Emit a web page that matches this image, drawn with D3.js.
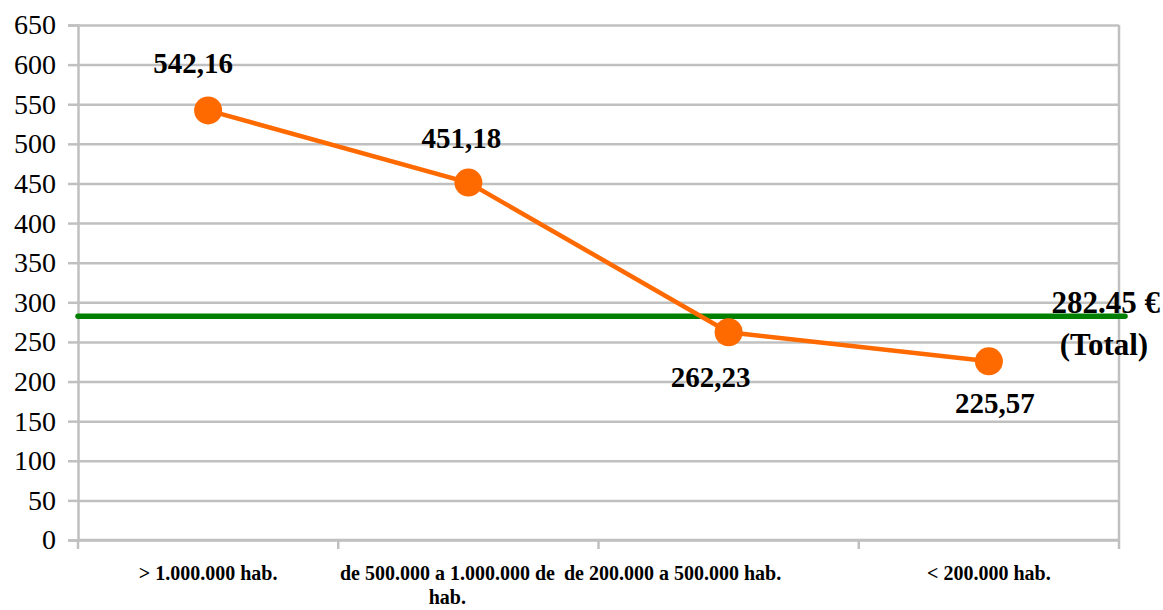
<!DOCTYPE html>
<html><head><meta charset="utf-8">
<script src="https://cdn.jsdelivr.net/npm/d3@7"></script>
<style>body{margin:0;background:#fff}svg{display:block}text{font-family:"Liberation Serif","Times New Roman",serif}</style>
</head><body><svg id="c" width="1163" height="610"></svg>
<script>
const categories = ["> 1.000.000 hab.", "de 500.000 a 1.000.000 de hab.", "de 200.000 a 500.000 hab.", "< 200.000 hab."];
const values = [542.16, 451.18, 262.23, 225.57];
const valueLabels = ["542,16", "451,18", "262,23", "225,57"];
const totalValue = 282.45;
const totalLabel = ["282.45 €", "(Total)"];
const yTicks = [0,50,100,150,200,250,300,350,400,450,500,550,600,650];
// label placement (style): dx, dy from point
const labelOffsets = [[-15,-37],[-7,-35],[-18,55],[6,52]];
const catLabelDx = [0,-21,-56,0];

const svg = d3.select("#c");
const m = {l:78, r:44, t:25, b:70};
const W = 1163, H = 610;
const x = d3.scaleBand().domain(categories).range([m.l, W-m.r]).padding(0);
const y = d3.scaleLinear().domain([0,650]).range([H-m.b, m.t]);
const grey = "#c0c0c0";

// gridlines
svg.append("g").attr("transform",`translate(${m.l},0)`)
  .call(d3.axisLeft(y).tickValues(yTicks).tickSize(-(W-m.r-m.l)).tickFormat(""))
  .call(g=>g.select(".domain").remove())
  .call(g=>g.selectAll("line").attr("stroke",grey).attr("stroke-width",2.5));
// y tick marks + labels
const ya = svg.append("g").attr("transform",`translate(${m.l},0)`)
  .call(d3.axisLeft(y).tickValues(yTicks).tickSize(10).tickPadding(12));
ya.attr("font-family",null);
ya.select(".domain").attr("stroke",grey).attr("stroke-width",2.5);
ya.selectAll("line").attr("stroke",grey).attr("stroke-width",2.5);
ya.selectAll("text").attr("font-size",28).attr("fill","#000");
// right border
svg.append("line").attr("x1",W-m.r).attr("x2",W-m.r).attr("y1",m.t).attr("y2",H-m.b)
  .attr("stroke",grey).attr("stroke-width",2.5);
// x axis
const xa = svg.append("g").attr("transform",`translate(0,${H-m.b})`);
xa.append("line").attr("x1",m.l).attr("x2",W-m.r).attr("stroke",grey).attr("stroke-width",2.5);
const bounds = categories.map(c=>x(c)).concat([W-m.r]);
xa.selectAll("line.t").data(bounds).join("line").attr("class","t")
  .attr("x1",d=>d).attr("x2",d=>d).attr("y1",0).attr("y2",9).attr("stroke",grey).attr("stroke-width",2.5);
function wrap(text, width){
  text.each(function(){
    const t = d3.select(this), words = t.text().split(/\s+/), xx = t.attr("x");
    let line = [], tspan = t.text(null).append("tspan").attr("x",xx).attr("dy",0);
    for (const w of words){
      line.push(w); tspan.text(line.join(" "));
      if (tspan.node().getComputedTextLength() > width && line.length>1){
        line.pop(); tspan.text(line.join(" ")); line=[w];
        tspan = t.append("tspan").attr("x",xx).attr("dy",24).text(w);
      }
    }
  });
}
xa.selectAll("text.c").data(categories).join("text").attr("class","c")
  .attr("x",(d,i)=>x(d)+x.bandwidth()/2+catLabelDx[i]).attr("y",40)
  .attr("text-anchor","middle").attr("font-size",20).attr("font-weight","bold").attr("fill","#000")
  .text(d=>d).call(wrap, 225);

// total line
svg.append("line").attr("x1",m.l).attr("x2",W-m.r+6).attr("y1",y(totalValue)).attr("y2",y(totalValue))
  .attr("stroke","#008000").attr("stroke-width",5.5).attr("stroke-linecap","round");

// series line
const pts = categories.map((c,i)=>({c, v:values[i], lab:valueLabels[i], off:labelOffsets[i]}));
svg.append("path").datum(pts)
  .attr("d", d3.line().x(d=>x(d.c)+x.bandwidth()/2).y(d=>y(d.v)))
  .attr("fill","none").attr("stroke","#ff6a00").attr("stroke-width",4.5);
svg.selectAll("circle.p").data(pts).join("circle").attr("class","p")
  .attr("cx",d=>x(d.c)+x.bandwidth()/2).attr("cy",d=>y(d.v)).attr("r",14).attr("fill","#ff6a00");
svg.selectAll("text.v").data(pts).join("text").attr("class","v")
  .attr("x",d=>x(d.c)+x.bandwidth()/2+d.off[0]).attr("y",d=>y(d.v)+d.off[1])
  .attr("text-anchor","middle").attr("font-size",29).attr("font-weight","bold").attr("fill","#000")
  .text(d=>d.lab);
// total label
svg.append("text").attr("x",1160).attr("y",y(totalValue)-3).attr("text-anchor","end")
  .attr("font-size",31).attr("font-weight","bold").text(totalLabel[0]);
svg.append("text").attr("x",1104).attr("y",y(totalValue)+39).attr("text-anchor","middle")
  .attr("font-size",31).attr("font-weight","bold").text(totalLabel[1]);
</script></body></html>
